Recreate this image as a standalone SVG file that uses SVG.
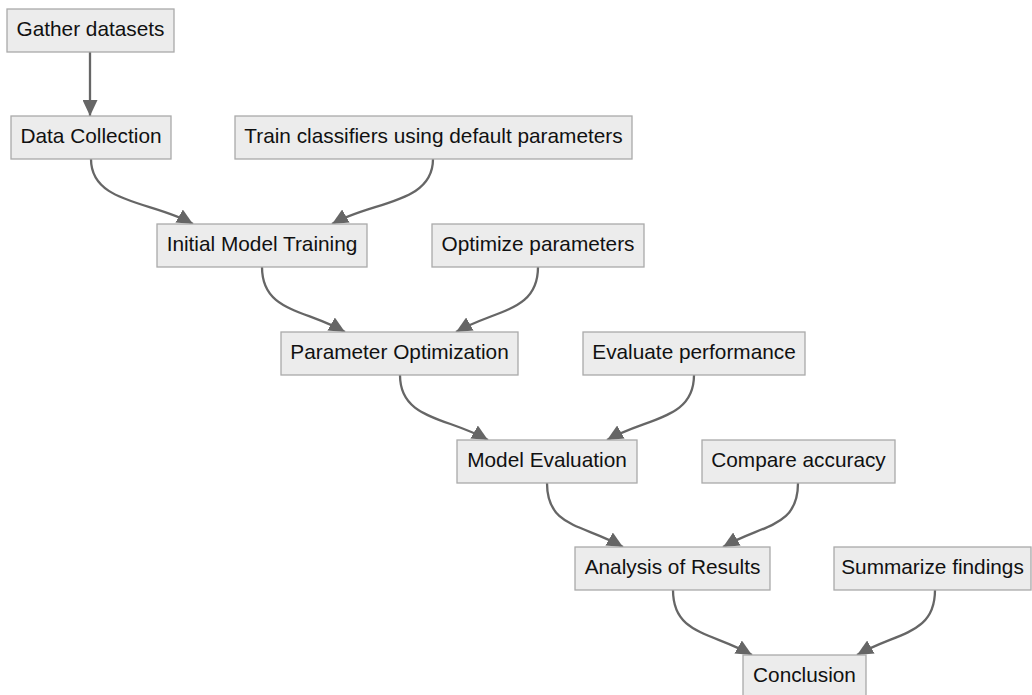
<svg xmlns="http://www.w3.org/2000/svg" width="1032" height="695" viewBox="0 0 1032 695">
<style>
.node rect{fill:#ececec;stroke:#aaaaaa;stroke-width:1.3}
.node text{font-family:"Liberation Sans",Arial,sans-serif;font-size:20.8px;fill:#111;text-anchor:middle}
.edges path{fill:none;stroke:#666;stroke-width:2.3}
</style>
<defs>
<marker id="arr" viewBox="0 0 10 10" refX="10" refY="5" markerWidth="16" markerHeight="15" markerUnits="userSpaceOnUse" orient="auto" preserveAspectRatio="none">
<path d="M0,0 L10,5 L0,10 z" fill="#666"/>
</marker>
</defs>
<rect width="1032" height="695" fill="#ffffff"/>
<g class="edges">
<path d="M90,52 L90,116" marker-end="url(#arr)"/>
<path d="M91,159 C91,204 153,201 193,224" marker-end="url(#arr)"/>
<path d="M433,159 C433,204 372,201 332,224" marker-end="url(#arr)"/>
<path d="M262,267 C262,312 305,309 345,332" marker-end="url(#arr)"/>
<path d="M538,267 C538,312 496,309 456,332" marker-end="url(#arr)"/>
<path d="M400,375 C400,420 448,417 488,440" marker-end="url(#arr)"/>
<path d="M694,375 C694,420 647,417 607,440" marker-end="url(#arr)"/>
<path d="M547,483 C547,528 583,524 623,547" marker-end="url(#arr)"/>
<path d="M798,483 C798,528 763,524 723,547" marker-end="url(#arr)"/>
<path d="M673,590 C673,635 712,632 752,655" marker-end="url(#arr)"/>
<path d="M935,590 C935,635 897,632 857,655" marker-end="url(#arr)"/>
</g>
<g id="n1" class="node"><rect x="7" y="9" width="167" height="43"/><text x="90.5" y="36">Gather datasets</text></g>
<g id="n2" class="node"><rect x="11" y="116" width="160" height="43"/><text x="91" y="143">Data Collection</text></g>
<g id="n3" class="node"><rect x="235" y="116" width="397" height="43"/><text x="433.5" y="143">Train classifiers using default parameters</text></g>
<g id="n4" class="node"><rect x="157" y="224" width="210" height="43"/><text x="262" y="251">Initial Model Training</text></g>
<g id="n5" class="node"><rect x="432" y="224" width="212" height="43"/><text x="538" y="251">Optimize parameters</text></g>
<g id="n6" class="node"><rect x="281" y="332" width="237" height="43"/><text x="399.5" y="359">Parameter Optimization</text></g>
<g id="n7" class="node"><rect x="583" y="332" width="222" height="43"/><text x="694" y="359">Evaluate performance</text></g>
<g id="n8" class="node"><rect x="457" y="440" width="180" height="43"/><text x="547" y="467">Model Evaluation</text></g>
<g id="n9" class="node"><rect x="702" y="440" width="193" height="43"/><text x="798.5" y="467">Compare accuracy</text></g>
<g id="n10" class="node"><rect x="575" y="547" width="195" height="43"/><text x="672.5" y="574">Analysis of Results</text></g>
<g id="n11" class="node"><rect x="834" y="547" width="197" height="43"/><text x="932.5" y="574">Summarize findings</text></g>
<g id="n12" class="node"><rect x="743" y="655" width="123" height="43"/><text x="804.5" y="682">Conclusion</text></g>
</svg>
